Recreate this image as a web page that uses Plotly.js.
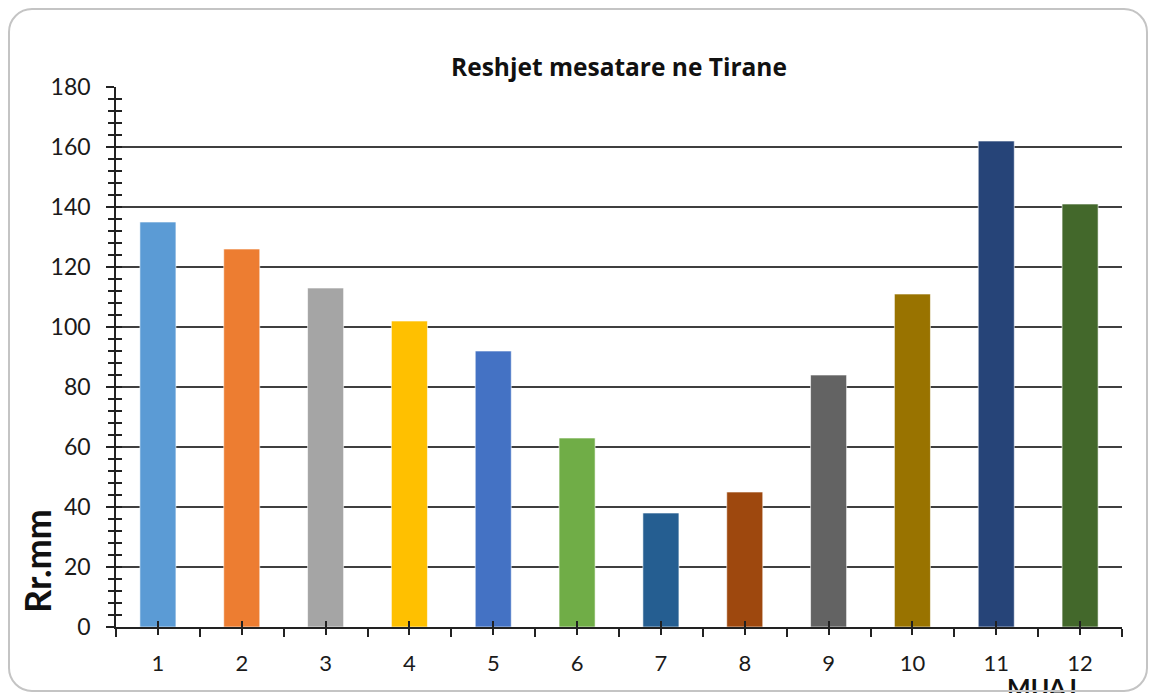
<!DOCTYPE html>
<html>
<head>
<meta charset="utf-8">
<script src="https://cdn.plot.ly/plotly-3.0.1.min.js"></script>
<style>
  html, body { margin: 0; padding: 0; background: #fff; }
  #wrap { position: relative; width: 1154px; height: 693px; overflow: hidden; }
  #chart { position: absolute; left: 0; top: 0; width: 1154px; height: 693px; }
  #frame { position: absolute; left: 8px; top: 8px; width: 1140px; height: 684px;
           border: 2px solid #c4c4c4; border-radius: 24px; pointer-events: none; box-sizing: border-box; }
</style>
</head>
<body>
<div id="wrap">
  <div id="chart"></div>
  <div id="frame"></div>
</div>
<script>
const months = [1, 2, 3, 4, 5, 6, 7, 8, 9, 10, 11, 12];
const monthLabels = ['1', '2', '3', '4', '5', '6', '7', '8', '9', '10', '11', '12'];
const rainfall = [135, 126, 113, 102, 92, 63, 38, 45, 84, 111, 162, 141];
const barColors = ['#5b9bd5', '#ed7d31', '#a5a5a5', '#ffc000', '#4472c4', '#70ad47',
                   '#255e91', '#9e480e', '#636363', '#997300', '#264478', '#43682b'];
const chartTitle = 'Reshjet mesatare ne Tirane';
const yTitle = 'Rr.mm';
const xTitle = 'MUAJ';

const FONT = 'Lato, "Open Sans", sans-serif';
const TFONT = '"Open Sans", Lato, sans-serif';

const trace = {
  type: 'bar',
  x: months,
  y: rainfall,
  width: 0.43,
  marker: { color: barColors, line: { color: 'rgba(255,255,255,0.6)', width: 1 } },
  hoverinfo: 'x+y',
  showlegend: false
};

const layout = {
  width: 1154,
  height: 693,
  margin: { l: 116, r: 32, t: 87, b: 66, pad: 0 },
  paper_bgcolor: '#ffffff',
  plot_bgcolor: '#ffffff',
  font: { family: FONT, color: '#1a1a1a', size: 22 },
  showlegend: false,
  bargap: 0.57,
  title: {
    text: '<b>' + chartTitle + '</b>',
    font: { family: TFONT, size: 24.5, color: '#111' },
    x: 0.5, xref: 'paper', xanchor: 'center',
    y: (693 - 67) / 693, yref: 'container', yanchor: 'middle'
  },
  xaxis: {
    range: [0.5, 12.5],
    tickmode: 'array',
    tickvals: months,
    ticktext: monthLabels,
    ticks: 'outside', ticklen: 6, tickwidth: 1.5, tickcolor: '#222',
    minor: { tickmode: 'linear', tick0: 0.5, dtick: 1, ticks: 'outside', ticklen: 8, tickwidth: 1.5, tickcolor: '#222', showgrid: false },
    showline: true, linecolor: '#222', linewidth: 1.5,
    showgrid: false, zeroline: false,
    ticklabelstandoff: 10,
    tickfont: { family: FONT, size: 22, color: '#1a1a1a' },
    fixedrange: true
  },
  xaxis2: {
    overlaying: 'x', range: [0.5, 12.5],
    tickmode: 'array', tickvals: months,
    ticks: 'inside', ticklen: 6, tickwidth: 1.5, tickcolor: '#222',
    showticklabels: false, showgrid: false, showline: false, zeroline: false,
    side: 'bottom', anchor: 'y', fixedrange: true
  },
  yaxis: {
    range: [0, 180],
    tickmode: 'linear', tick0: 0, dtick: 20,
    ticks: 'outside', ticklen: 8, tickwidth: 1.5, tickcolor: '#222',
    minor: { tickmode: 'linear', tick0: 0, dtick: 4, ticks: 'outside', ticklen: 6, tickwidth: 1.5, tickcolor: '#222', showgrid: false },
    showline: true, linecolor: '#222', linewidth: 1.5,
    showgrid: true, gridcolor: '#3f3f3f', gridwidth: 1.6,
    zeroline: false,
    ticklabelstandoff: 11,
    tickfont: { family: FONT, size: 23, color: '#1a1a1a' },
    fixedrange: true
  },
  yaxis2: {
    overlaying: 'y', range: [0, 180],
    tickmode: 'linear', tick0: 0, dtick: 20,
    ticks: 'inside', ticklen: 6, tickwidth: 1.5, tickcolor: '#222',
    minor: { tickmode: 'linear', tick0: 0, dtick: 4, ticks: 'inside', ticklen: 6, tickwidth: 1.5, tickcolor: '#222' },
    showticklabels: false, showgrid: false, showline: false, zeroline: false,
    side: 'left', anchor: 'x', fixedrange: true
  },
  annotations: [
    {
      text: '<b>' + yTitle + '</b>',
      xref: 'paper', yref: 'paper',
      x: (37 - 116) / 1006, y: (627 - 561) / 540,
      xanchor: 'center', yanchor: 'middle',
      textangle: -90, showarrow: false,
      font: { family: FONT, size: 36, color: '#111' }
    },
    {
      text: '<b>' + xTitle + '</b>',
      xref: 'paper', yref: 'paper',
      x: (1042 - 116) / 1006, y: (627 - 687) / 540,
      xanchor: 'center', yanchor: 'middle',
      showarrow: false,
      font: { family: FONT, size: 25, color: '#111' }
    }
  ]
};

const ghostX = { type: 'scatter', x: [], y: [], xaxis: 'x2', yaxis: 'y', hoverinfo: 'skip', showlegend: false };
const ghostY = { type: 'scatter', x: [], y: [], xaxis: 'x', yaxis: 'y2', hoverinfo: 'skip', showlegend: false };

Plotly.newPlot('chart', [trace, ghostX, ghostY], layout, { displayModeBar: false, staticPlot: false, responsive: false });
</script>
</body>
</html>
